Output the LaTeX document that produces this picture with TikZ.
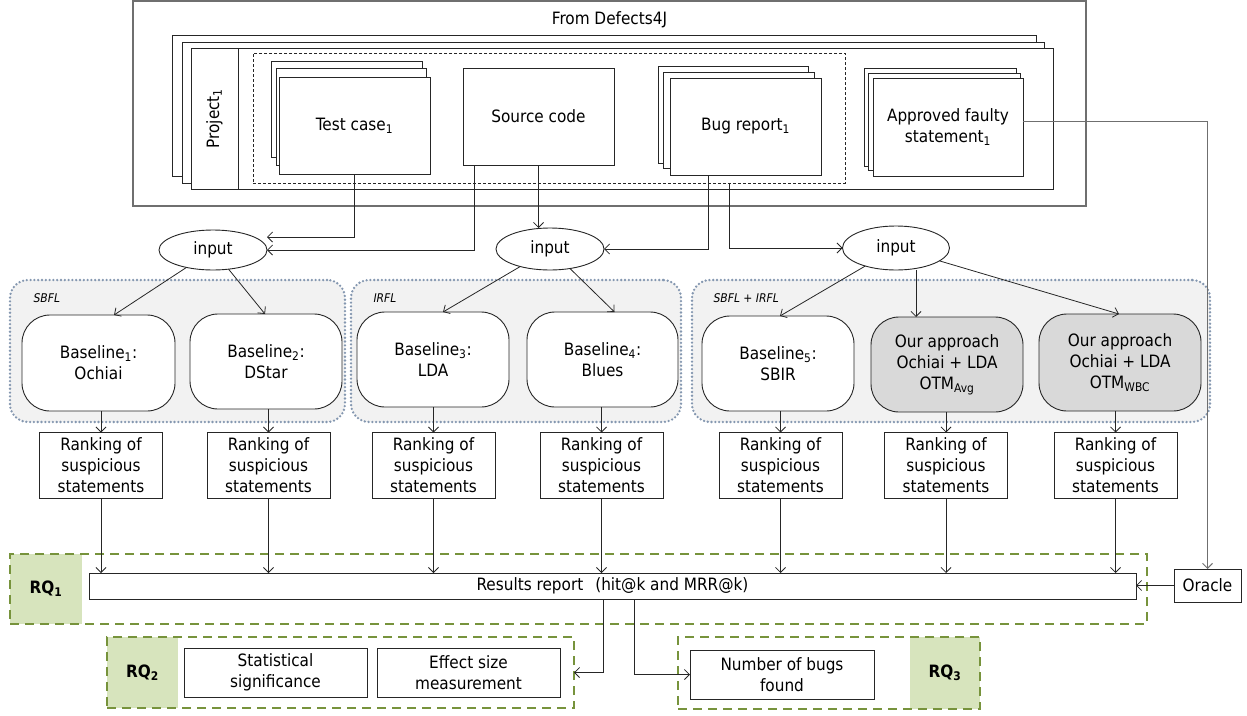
\documentclass[tikz,border=0pt]{standalone}
\usepackage{fontspec}
\setmainfont{DejaVu Sans Condensed}
\usetikzlibrary{arrows.meta,calc,shapes.geometric}
\definecolor{linec}{HTML}{262626}
\definecolor{outerc}{HTML}{6F6F6F}
\definecolor{grpfill}{HTML}{F2F2F2}
\definecolor{grpline}{HTML}{8497B0}
\definecolor{ourfill}{HTML}{D9D9D9}
\definecolor{rqline}{HTML}{77933C}
\definecolor{rqfill}{HTML}{D7E4BD}
\begin{document}
\begin{tikzpicture}[x=1pt,y=-1pt,
  font=\fontsize{17}{21}\selectfont,
  box/.style={draw=linec, line width=0.9pt, fill=white, inner sep=0pt, outer sep=0pt, align=center},
  rbox/.style={box, rounded corners=28pt},
  grp/.style={draw=grpline, fill=grpfill, line width=2.6pt, dash pattern=on 0pt off 3.8pt, line cap=round, rounded corners=18pt, inner sep=0pt, outer sep=0pt},
  grplab/.style={font=\fontsize{12}{14}\selectfont\itshape, anchor=west},
  rq/.style={draw=rqline, line width=1.4pt, dash pattern=on 9pt off 6pt, inner sep=0pt, outer sep=0pt},
  rqlab/.style={fill=rqfill, inner sep=0pt, outer sep=0pt, font=\fontsize{17}{21}\selectfont\bfseries},
  arr/.style={draw=linec, line width=0.8pt, -{Straight Barb[length=5pt,width=10pt]}},
  inp/.style={draw=linec, line width=0.9pt, ellipse, fill=white, inner sep=0pt, outer sep=0pt}]
\useasboundingbox (0,0) rectangle (1247,715);

% ---------- Defects4J block ----------
\node[box, draw=outerc, line width=1.2pt, minimum width=953pt, minimum height=205pt] (outer) at (609.5,103.5) {};
\node (title) at (609.5,20) {From Defects4J};
\node[box, minimum width=864pt, minimum height=141pt] (proj3) at (604,105.5) {};
\node[box, minimum width=862pt, minimum height=141pt] (proj2) at (613,112.5) {};
\node[box, minimum width=862pt, minimum height=141pt] (proj1) at (622,118.5) {};
\draw[line width=0.9pt, draw=linec] ($(proj1.north west)+(47,0)$) -- ($(proj1.south west)+(47,0)$);
\node[rotate=90] (plabel) at (214.5,118.5) {Project\textsubscript{1}};
\node[draw=linec, line width=0.8pt, dash pattern=on 3pt off 2pt, minimum width=592pt, minimum height=130pt, inner sep=0pt, outer sep=0pt] (dashed) at (549,118) {};

\node[box, minimum width=151pt, minimum height=96pt] (tc3) at (346.5,109) {};
\node[box, minimum width=150pt, minimum height=97pt] (tc2) at (351,116.5) {};
\node[box, minimum width=151pt, minimum height=97pt] (tc1) at (354.5,125.5) {Test case\textsubscript{1}};
\node[box, minimum width=151pt, minimum height=97pt] (src) at (538.5,116.5) {Source code};
\node[box, minimum width=150pt, minimum height=97pt] (br3) at (733,114.5) {};
\node[box, minimum width=151pt, minimum height=96pt] (br2) at (738.5,120) {};
\node[box, minimum width=151pt, minimum height=97pt] (br1) at (745.5,126.5) {Bug report\textsubscript{1}};
\node[box, minimum width=152pt, minimum height=98pt] (af3) at (940,117) {};
\node[box, minimum width=152pt, minimum height=97pt] (af2) at (944,121.5) {};
\node[box, minimum width=150pt, minimum height=98pt] (af1) at (948,127) {Approved faulty\\statement\textsubscript{1}};

% ---------- inputs ----------
\node[inp, minimum width=108pt, minimum height=40pt] (in1) at (213,250) {input};
\node[inp, minimum width=108pt, minimum height=42pt] (in2) at (550,249) {input};
\node[inp, minimum width=107pt, minimum height=44pt] (in3) at (896,248) {input};

\draw[arr] (tc1.south) |- ($(in1.east)+(0,-13)$);
\draw[arr] ($(src.south west)+(11,0)$) |- (in1.east);
\draw[arr] (src.south) -- (src.south |- in2.north);
\draw[arr] ($(br1.south west)+(38,0)$) |- (in2.east);
\draw[arr] ($(dashed.south west)+(476,0)$) |- (in3.west);

% ---------- groups ----------
\node[grp, minimum width=335pt, minimum height=142pt] (g1) at (177.5,351) {};
\node[grp, minimum width=330pt, minimum height=142pt] (g2) at (516,351) {};
\node[grp, minimum width=518pt, minimum height=142pt] (g3) at (951,351) {};
\node[grplab] (g1l) at ($(g1.north west)+(20,18)$) {SBFL};
\node[grplab] (g2l) at ($(g2.north west)+(19,18)$) {IRFL};
\node[grplab] (g3l) at ($(g3.north west)+(18,18)$) {SBFL + IRFL};

% ---------- approaches ----------
\node[rbox, minimum width=153pt, minimum height=96pt] (b1) at (98.5,363) {Baseline\textsubscript{1}:\\Ochiai};
\node[rbox, minimum width=152pt, minimum height=95pt] (b2) at (266,361.5) {Baseline\textsubscript{2}:\\DStar};
\node[rbox, minimum width=152pt, minimum height=95pt] (b3) at (433,359.5) {Baseline\textsubscript{3}:\\LDA};
\node[rbox, minimum width=151pt, minimum height=95pt] (b4) at (602.5,359.5) {Baseline\textsubscript{4}:\\Blues};
\node[rbox, minimum width=152pt, minimum height=95pt] (b5) at (778,363.5) {Baseline\textsubscript{5}:\\SBIR};
\node[rbox, fill=ourfill, minimum width=152pt, minimum height=95pt] (o1) at (947,364.5) {Our approach\\Ochiai + LDA\\OTM\textsubscript{Avg}};
\node[rbox, fill=ourfill, minimum width=162pt, minimum height=97pt] (o2) at (1120,362.5) {Our approach\\Ochiai + LDA\\OTM\textsubscript{WBC}};

\draw[arr] (in1) -- ($(b1.north)+(15.5,0)$);
\draw[arr] (in1) -- ($(b2.north)+(-1,0)$);
\draw[arr] (in2) -- ($(b3.north)+(10,0)$);
\draw[arr] (in2) -- ($(b4.north)+(12,0)$);
\draw[arr] (in3) -- ($(b5.north)+(2,0)$);
\coordinate (o1in) at ($(o1.north)+(-31,0)$);
\draw[arr] (o1in |- in3.south) -- (o1in);
\draw[arr] (in3) -- ($(o2.north)+(-1,0)$);

% ---------- rankings ----------
\foreach \n/\x in {r1/101, r2/268.5, r3/433.5, r4/601.5, r5/780.5, r6/946, r7/1115.5}{
  \node[box, minimum width=123pt, minimum height=66pt] (\n) at (\x,465.5) {Ranking of\\suspicious\\statements};
}
\foreach \b/\r in {b1/r1, b2/r2, b3/r3, b4/r4, b5/r5, o1/r6, o2/r7}{
  \draw[arr] (\b.south -| \r.north) -- (\r.north);
}

% ---------- RQ1 ----------
\node[rqlab, minimum width=72pt, minimum height=70pt] (rq1lab) at (46,589) {RQ\textsubscript{1}};
\node[rq, minimum width=1137pt, minimum height=70pt] (rq1) at (578.5,589) {};
\node[box, minimum width=1047pt, minimum height=26pt] (res) at (612.5,586) {Results report\hspace{12pt}(hit@k and MRR@k)};
\foreach \r in {r1,r2,r3,r4,r5,r6,r7}{
  \draw[arr] (\r.south) -- (\r.south |- res.north);
}
\node[box, minimum width=67pt, minimum height=33pt] (oracle) at (1207.5,585.5) {Oracle};
\draw[arr] (oracle.west) -- (oracle.west -| res.east);
\coordinate (afout) at ($(af1.east)+(0,-6)$);
\draw[arr, draw=outerc, line width=1pt] (afout) -| (oracle.north);

% ---------- RQ2 ----------
\node[rqlab, minimum width=71pt, minimum height=71pt] (rq2lab) at (142.5,672.5) {RQ\textsubscript{2}};
\node[rq, minimum width=467pt, minimum height=71pt] (rq2) at (340.5,672.5) {};
\node[box, minimum width=183pt, minimum height=49pt] (stat) at (275.5,672.5) {Statistical\\significance};
\node[box, minimum width=183pt, minimum height=49pt] (eff) at (468.5,672.5) {Effect size\\measurement};

% ---------- RQ3 ----------
\node[rqlab, minimum width=70pt, minimum height=72pt] (rq3lab) at (945,673) {RQ\textsubscript{3}};
\node[rq, minimum width=302pt, minimum height=72pt] (rq3) at (829,673) {};
\node[box, minimum width=184pt, minimum height=49pt] (nb) at (782,674.5) {Number of bugs\\found};

\coordinate (r2x) at (603,0);
\coordinate (r3x) at (634,0);
\draw[arr] (res.south -| r2x) |- (rq2.east);
\draw[arr] (res.south -| r3x) |- (nb.west);
\end{tikzpicture}
\end{document}
